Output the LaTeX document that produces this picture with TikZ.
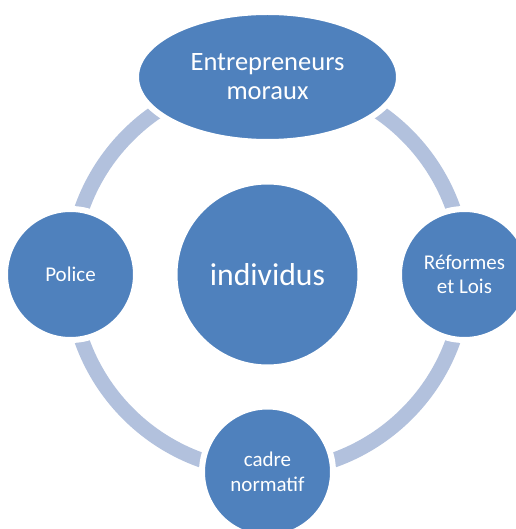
\documentclass[tikz,border=0pt]{standalone}
\usepackage{fontspec}
\setmainfont{Carlito}
\usetikzlibrary{shapes.geometric}
\definecolor{nodeblue}{HTML}{4F81BD}
\definecolor{ringblue}{HTML}{B2C1DD}
\tikzset{
  hub/.style={circle, fill=nodeblue, draw=white, line width=6pt, inner sep=0pt,
    minimum size=186pt, text=white, align=center, font=\fontsize{31.7}{36}\selectfont},
  sat/.style={circle, fill=nodeblue, draw=white, line width=6pt, inner sep=0pt,
    minimum size=131pt, text=white, align=center, font=\fontsize{21}{24.5}\selectfont},
  topsat/.style={ellipse, fill=nodeblue, draw=white, line width=6pt, inner sep=0pt,
    minimum width=263pt, minimum height=130pt, text=white, align=center,
    font=\fontsize{26.5}{29}\selectfont},
  ringline/.style={draw=ringblue, line width=15pt}
}
\begin{document}
\begin{tikzpicture}[x=1pt,y=-1pt]
\useasboundingbox[fill=white] (0,0) rectangle (515,529);
\coordinate (c) at (267.5,274.5);
\draw[ringline] (c) circle (197);
\node[hub] (ind) at (c) {individus};
\node[topsat] (ent) at (267.5,77) {Entrepreneurs\\moraux};
\node[sat] (ref) at (464.5,274.5) {Réformes\\et Lois};
\node[sat] (cad) at (267.5,472) {cadre\\normatif};
\node[sat] (pol) at (70.5,274.5) {Police};
\end{tikzpicture}
\end{document}
